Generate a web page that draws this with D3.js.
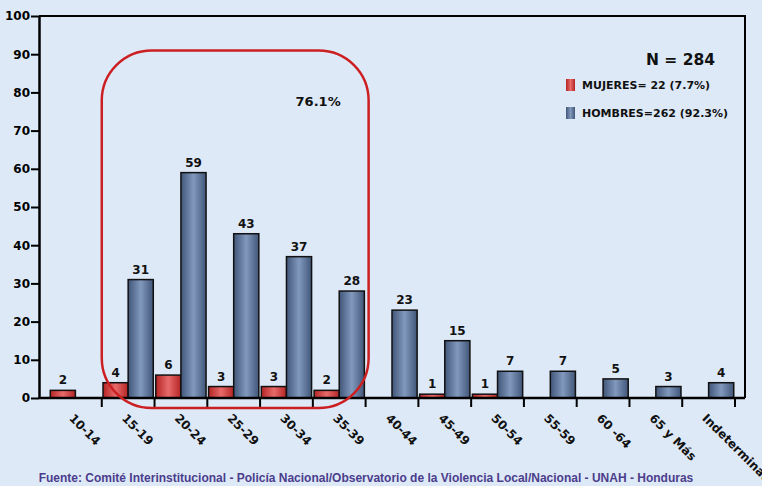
<!DOCTYPE html>
<html>
<head>
<meta charset="utf-8">
<script src="https://cdn.jsdelivr.net/npm/d3@7"></script>
<style>
  body { margin: 0; background: #dde9f7; }
  svg { display: block; }
  text { font-family: "DejaVu Sans", Verdana, sans-serif; font-weight: bold; }
</style>
</head>
<body>
<div id="vis-container"></div>
<script>
const width = 762;
const height = 486;
const margin = { top: 16, right: 17, bottom: 88, left: 39 };

// data
const categories = ["10-14", "15-19", "20-24", "25-29", "30-34", "35-39", "40-44",
                    "45-49", "50-54", "55-59", "60 -64", "65 y Más", "Indeterminado"];
const mujeres = [2, 4, 6, 3, 3, 2, 0, 1, 1, 0, 0, 0, 0];
const hombres = [0, 31, 59, 43, 37, 28, 23, 15, 7, 7, 5, 3, 4];
const yTicks = [0, 10, 20, 30, 40, 50, 60, 70, 80, 90, 100];
const legendItems = ["MUJERES= 22 (7.7%)", "HOMBRES=262 (92.3%)"];
const totalLabel = "N = 284";
const highlightLabel = "76.1%";
const sourceText = "Fuente: Comité Interinstitucional - Policía Nacional/Observatorio de la Violencia Local/Nacional - UNAH - Honduras";

const svg = d3.select("#vis-container")
    .append("svg")
    .attr("width", width)
    .attr("height", height);

// gradients for the bars
const defs = svg.append("defs");
function addGradient(id, edge, mid) {
    const g = defs.append("linearGradient").attr("id", id)
        .attr("x1", "0%").attr("x2", "100%").attr("y1", "0%").attr("y2", "0%");
    g.append("stop").attr("offset", "0%").attr("stop-color", edge);
    g.append("stop").attr("offset", "50%").attr("stop-color", mid);
    g.append("stop").attr("offset", "100%").attr("stop-color", edge);
}
addGradient("gradRed", "#b42424", "#e86a6a");
addGradient("gradBlue", "#415679", "#8199bd");

const plotLeft = margin.left;
const plotRight = width - margin.right;
const plotBottom = height - margin.bottom;

// scales
const x = d3.scaleBand()
    .domain(categories)
    .range([plotLeft + 10, plotRight - 10]);

const xSub = d3.scaleBand()
    .domain(["M", "H"])
    .range([0, x.bandwidth()])
    .paddingOuter(0.05);

const y = d3.scaleLinear()
    .domain([0, 100])
    .range([plotBottom, margin.top]);

// frame (top and right)
svg.append("path")
    .attr("d", `M${plotLeft},${margin.top}H${plotRight}V${plotBottom}`)
    .attr("fill", "none")
    .attr("stroke", "black")
    .attr("stroke-width", 2);

// y axis
const yAxis = svg.append("g")
    .attr("transform", `translate(${plotLeft},0)`)
    .call(d3.axisLeft(y).tickValues(yTicks).tickSize(8).tickSizeOuter(0));
yAxis.select(".domain").attr("stroke-width", 2.5);
yAxis.selectAll(".tick line").attr("stroke-width", 2);
yAxis.selectAll("text").attr("font-size", 12).attr("x", -9)
    .style("font-family", "DejaVu Sans").style("font-weight", "bold");

// bars
const rows = categories.map((c, i) => ({ cat: c, m: mujeres[i], h: hombres[i] }));

const groups = svg.append("g")
    .selectAll("g")
    .data(rows)
    .enter()
    .append("g")
    .attr("transform", (d) => `translate(${x(d.cat)},0)`);

groups.filter((d) => d.m > 0)
    .append("rect")
    .attr("x", xSub("M"))
    .attr("y", (d) => y(d.m))
    .attr("width", xSub.bandwidth())
    .attr("height", (d) => y(0) - y(d.m))
    .attr("fill", "url(#gradRed)")
    .attr("stroke", "#111")
    .attr("stroke-width", 1.5);

groups.filter((d) => d.h > 0)
    .append("rect")
    .attr("x", xSub("H"))
    .attr("y", (d) => y(d.h))
    .attr("width", xSub.bandwidth())
    .attr("height", (d) => y(0) - y(d.h))
    .attr("fill", "url(#gradBlue)")
    .attr("stroke", "#111")
    .attr("stroke-width", 1.5);

// value labels
groups.filter((d) => d.m > 0)
    .append("text")
    .attr("x", xSub("M") + xSub.bandwidth() / 2)
    .attr("y", (d) => y(d.m) - 6)
    .attr("text-anchor", "middle")
    .attr("font-size", 12)
    .attr("fill", "#111")
    .text((d) => d.m);

groups.filter((d) => d.h > 0)
    .append("text")
    .attr("x", xSub("H") + xSub.bandwidth() / 2)
    .attr("y", (d) => y(d.h) - 6)
    .attr("text-anchor", "middle")
    .attr("font-size", 12)
    .attr("fill", "#111")
    .text((d) => d.h);

// x axis, ticks at the end of every band
const xAxis = svg.append("g")
    .attr("transform", `translate(0,${plotBottom})`)
    .call(d3.axisBottom(x).tickSize(9).tickSizeOuter(0));
xAxis.select(".domain").attr("d", `M${plotLeft},0H${plotRight}`).attr("stroke-width", 2.5);
xAxis.selectAll(".tick line")
    .attr("x1", x.bandwidth() / 2)
    .attr("x2", x.bandwidth() / 2)
    .attr("stroke-width", 2);
xAxis.selectAll(".tick text")
    .attr("font-size", 12)
    .attr("text-anchor", "start")
    .attr("dy", null)
    .attr("transform", "translate(-7,21) rotate(45)")
    .attr("x", 0)
    .attr("y", 0)
    .style("font-family", "DejaVu Sans").style("font-weight", "bold")
    .attr("fill", "#111");

// highlight box around 15-39
const boxX0 = x("15-19");
const boxX1 = x("35-39") + x.bandwidth() + 3;
svg.append("rect")
    .attr("x", boxX0)
    .attr("y", y(91))
    .attr("width", boxX1 - boxX0)
    .attr("height", y(0) + 10 - y(91))
    .attr("rx", 50)
    .attr("ry", 50)
    .attr("fill", "none")
    .attr("stroke", "#cc1f22")
    .attr("stroke-width", 2.5);

svg.append("text")
    .attr("x", x("30-34") + x.bandwidth() * 1.1)
    .attr("y", y(76.5))
    .attr("text-anchor", "middle")
    .attr("font-size", 13)
    .attr("fill", "#111")
    .text(highlightLabel);

// legend
svg.append("text")
    .attr("x", 715)
    .attr("y", 65)
    .attr("text-anchor", "end")
    .attr("font-size", 15.5)
    .attr("fill", "#111")
    .text(totalLabel);

const legend = svg.append("g")
    .selectAll("g")
    .data(legendItems)
    .enter()
    .append("g")
    .attr("transform", (d, i) => `translate(566,${79 + i * 28})`);

legend.append("rect")
    .attr("width", 9)
    .attr("height", 12)
    .attr("fill", (d, i) => i === 0 ? "url(#gradRed)" : "url(#gradBlue)");

legend.append("text")
    .attr("x", 16)
    .attr("y", 10)
    .attr("font-size", 11)
    .attr("fill", "#111")
    .text((d) => d);

// source
svg.append("text")
    .attr("x", 366)
    .attr("y", 482)
    .attr("text-anchor", "middle")
    .attr("font-size", 12)
    .attr("fill", "#4b3d8c")
    .style("font-family", "Liberation Sans, Arial, sans-serif")
    .text(sourceText);
</script>
</body>
</html>
